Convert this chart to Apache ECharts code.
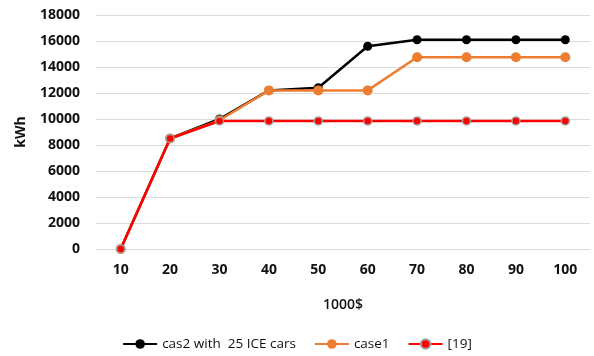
<!DOCTYPE html>
<html>
<head>
<meta charset="utf-8">
<script src="https://cdn.jsdelivr.net/npm/echarts@6/dist/echarts.min.js"></script>
<style>
  html, body { margin: 0; padding: 0; background: #fff; }
  #chart { width: 594px; height: 356px; }
</style>
</head>
<body>
<div id="chart"></div>
<script>
// Budget (thousand $) on the x axis
const categories = ['10', '20', '30', '40', '50', '60', '70', '80', '90', '100'];
// Energy (kWh) per scenario
const case2Values = [0, 8500, 10000, 12200, 12400, 15600, 16100, 16100, 16100, 16100];
const case1Values = [0, 8500, 9900, 12200, 12200, 12200, 14750, 14750, 14750, 14750];
const ref19Values = [0, 8500, 9850, 9850, 9850, 9850, 9850, 9850, 9850, 9850];
const yTicks = { min: 0, max: 18000, interval: 2000 };

const chart = echarts.init(document.getElementById('chart'));
const font = 'Open Sans, Liberation Sans, sans-serif';

chart.setOption({
  animation: false,
  backgroundColor: '#fff',
  grid: { left: 96, right: 4, top: 15, bottom: 107 },
  legend: {
    bottom: 0,
    left: 'center',
    itemGap: 18,
    itemWidth: 34,
    itemHeight: 12,
    textStyle: { fontFamily: font, fontSize: 13.5, color: '#111' },
    data: ['cas2 with  25 ICE cars', 'case1', '[19]']
  },
  xAxis: {
    type: 'category',
    data: categories,
    boundaryGap: true,
    name: '1000$',
    nameLocation: 'middle',
    nameGap: 49,
    nameTextStyle: { fontFamily: font, fontSize: 14, color: '#111', fontWeight: 600 },
    axisLine: { show: false },
    axisTick: { show: false },
    axisLabel: { fontFamily: font, fontSize: 14, fontWeight: 'bold', color: '#111', margin: 14 }
  },
  yAxis: {
    type: 'value',
    min: yTicks.min,
    max: yTicks.max,
    interval: yTicks.interval,
    name: 'kWh',
    nameLocation: 'middle',
    nameGap: 68,
    nameRotate: 90,
    nameTextStyle: { fontFamily: font, fontSize: 14, color: '#111', fontWeight: 'bold' },
    axisLine: { show: false },
    axisTick: { show: false },
    axisLabel: {
      fontFamily: font, fontSize: 14, fontWeight: 'bold', color: '#111', margin: 16,
      formatter: v => String(v)
    },
    splitLine: { lineStyle: { color: '#dcdcdc', width: 1 } }
  },
  series: [
    {
      name: 'cas2 with  25 ICE cars',
      type: 'line',
      data: case2Values,
      symbol: 'circle',
      symbolSize: 9,
      itemStyle: { color: '#000' },
      lineStyle: { color: '#000', width: 2.5 },
      z: 2
    },
    {
      name: 'case1',
      type: 'line',
      data: case1Values,
      symbol: 'circle',
      symbolSize: 10,
      itemStyle: { color: '#ed7d31' },
      lineStyle: { color: '#ed7d31', width: 2.5 },
      z: 3
    },
    {
      name: '[19]',
      type: 'line',
      data: ref19Values,
      symbol: 'circle',
      symbolSize: 8,
      itemStyle: { color: '#ff0000', borderColor: '#a0a0a0', borderWidth: 1.5 },
      lineStyle: { color: '#ff0000', width: 2.5 },
      z: 4
    }
  ]
});
</script>
</body>
</html>
